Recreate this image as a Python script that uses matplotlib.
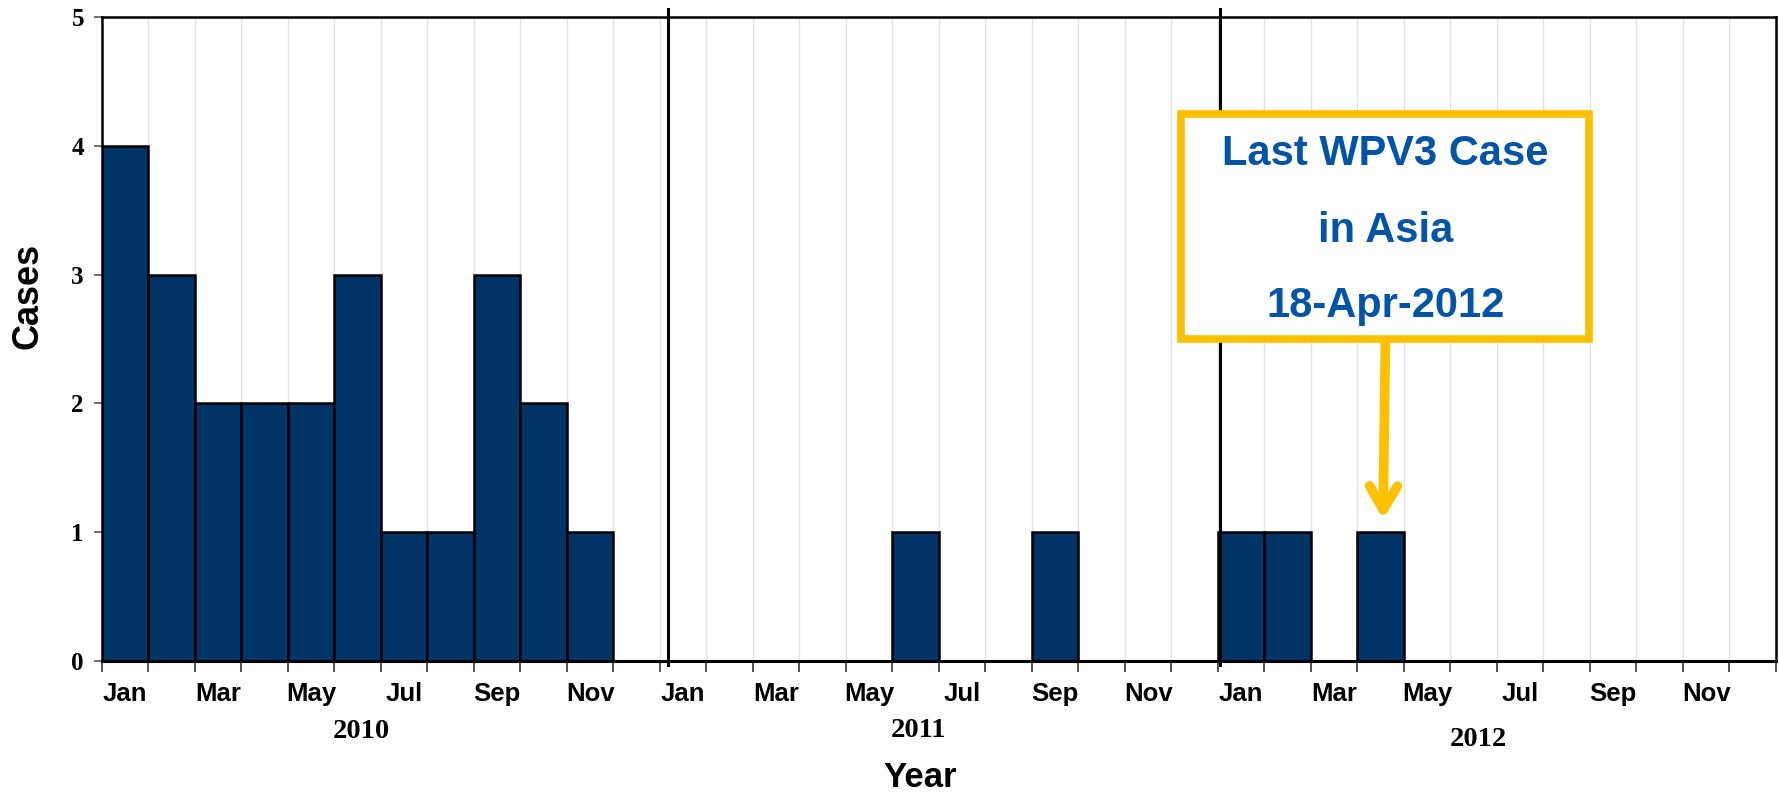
import matplotlib
matplotlib.use("Agg")
import matplotlib.pyplot as plt
from matplotlib.patches import Rectangle

# ---- data ----
years = ["2010", "2011", "2012"]
month_names = ["Jan", "Feb", "Mar", "Apr", "May", "Jun",
               "Jul", "Aug", "Sep", "Oct", "Nov", "Dec"]
cases_2010 = [4, 3, 2, 2, 2, 3, 1, 1, 3, 2, 1, 0]
cases_2011 = [0, 0, 0, 0, 0, 1, 0, 0, 1, 0, 0, 0]
cases_2012 = [1, 1, 0, 1, 0, 0, 0, 0, 0, 0, 0, 0]
y_ticks = [0, 1, 2, 3, 4, 5]
annot_lines = ["Last WPV3 Case", "in Asia", "18-Apr-2012"]

cases = cases_2010 + cases_2011 + cases_2012
n = len(cases)

SANS = "Liberation Sans"
SERIF = "Liberation Serif"
BAR = "#003366"
YEL = "#FFC000"
BLUE = "#0054A6"

fig = plt.figure(figsize=(17.79, 7.95), dpi=100)
ax = fig.add_axes([0.0573, 0.1686, 0.9410, 0.8100])

# gridlines at month boundaries
for b in range(1, n):
    ax.axvline(b, color="#e2e2e2", lw=1.0, zorder=0)

xs = [i + 0.5 for i in range(n)]
ax.bar(xs, cases, width=1.0, color=BAR, edgecolor="black", linewidth=1.8, zorder=2)

ax.set_xlim(0, n)
ax.set_ylim(0, 5)

# spines
for s in ax.spines.values():
    s.set_color("black")
    s.set_linewidth(1.8)
ax.spines["bottom"].set_linewidth(2.2)

# y ticks
ax.set_yticks(y_ticks)
ax.set_yticklabels([str(v) for v in y_ticks], fontfamily=SERIF, fontweight="bold", fontsize=18)
ax.tick_params(axis="y", length=6, width=1.2, color="#555555", pad=7)

# x ticks: marks at month boundaries, labels at centres
ax.set_xticks(range(0, n + 1))
ax.set_xticklabels([])
ax.tick_params(axis="x", which="major", length=8, width=1.2, color="#333333")
lab_pos = [i + 0.5 for i in range(n) if i % 2 == 0]
lab_txt = [month_names[i % 12] for i in range(n) if i % 2 == 0]
ax.set_xticks(lab_pos, minor=True)
ax.set_xticklabels(lab_txt, minor=True, fontfamily=SANS, fontweight="bold", fontsize=18.5)
ax.tick_params(axis="x", which="minor", length=0, pad=15)

# year separators (extend slightly beyond the axes)
for xsep in [12.18, 24.05]:
    ax.plot([xsep, xsep], [-0.03, 5.065], color="black", lw=2.2, clip_on=False, zorder=3)

# year labels
year_x = [5.57, 17.55, 29.6]
year_y = [-0.55, -0.54, -0.61]
for yr, xx, yy in zip(years, year_x, year_y):
    ax.text(xx, yy, yr, ha="center", va="center", fontfamily=SERIF,
            fontweight="bold", fontsize=20.5, clip_on=False)

# axis titles
ax.text(-0.0442, 0.567, "Cases", rotation=90, ha="center", va="center",
        transform=ax.transAxes, fontfamily=SANS, fontweight="bold", fontsize=26)
ax.text(0.4887, -0.1817, "Year", ha="center", va="center",
        transform=ax.transAxes, fontfamily=SANS, fontweight="bold", fontsize=25)

# annotation box
ax.add_patch(Rectangle((23.2, 2.50), 8.77, 1.75, facecolor="white",
                       edgecolor=YEL, linewidth=5.5, zorder=5))
line_y = [3.935, 3.335, 2.755]
for txt, yy in zip(annot_lines, line_y):
    ax.text(27.6, yy, txt, ha="center", va="center", color=BLUE,
            fontfamily=SANS, fontweight="bold", fontsize=30, zorder=6)

ax.annotate("", xy=(27.55, 1.10), xytext=(27.6, 2.47),
            arrowprops=dict(arrowstyle="->,head_length=1.7,head_width=1.0",
                            color=YEL, lw=7, capstyle="round", joinstyle="round",
                            shrinkA=0, shrinkB=0),
            zorder=5)

fig.savefig("out.png", dpi=100)
